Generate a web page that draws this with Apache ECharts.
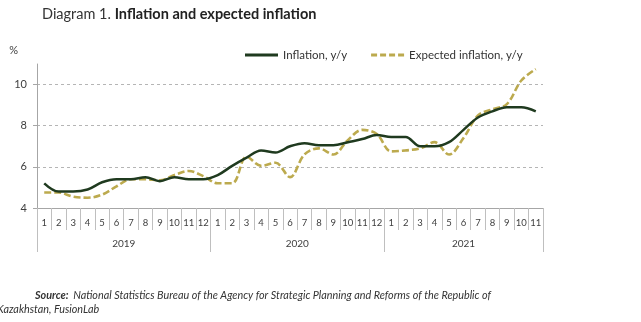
<!DOCTYPE html>
<html>
<head>
<meta charset="utf-8">
<script src="https://cdn.jsdelivr.net/npm/echarts@6/dist/echarts.min.js"></script>
<style>
html,body{margin:0;padding:0;background:#fff;}
#chart{width:641px;height:322px;}
</style>
</head>
<body>
<div id="chart"></div>
<script>
const monthLabels = ['1','2','3','4','5','6','7','8','9','10','11','12',
                     '1','2','3','4','5','6','7','8','9','10','11','12',
                     '1','2','3','4','5','6','7','8','9','10','11'];
const yearLabels = ['2019','2020','2021'];
const monthsPerYear = [12, 12, 11];
const inflation = [5.2,4.8,4.8,4.9,5.25,5.4,5.4,5.5,5.3,5.5,5.4,5.4,
                   5.6,6.05,6.45,6.8,6.7,7.0,7.15,7.05,7.05,7.2,7.35,7.55,
                   7.45,7.45,7.0,7.0,7.2,7.8,8.4,8.7,8.9,8.9,8.7];
const expected = [4.75,4.75,4.55,4.5,4.65,5.05,5.4,5.4,5.35,5.6,5.8,5.55,
                  5.2,5.2,6.5,6.05,6.2,5.5,6.6,6.9,6.6,7.3,7.8,7.6,
                  6.75,6.8,6.9,7.2,6.6,7.4,8.5,8.8,9.05,10.2,10.75];
const seriesNames = ['Inflation, y/y', 'Expected inflation, y/y'];

// year boundaries and centers (in category units)
const yearBounds = [0];
monthsPerYear.forEach(n => yearBounds.push(yearBounds[yearBounds.length - 1] + n));
const yearCenters = monthsPerYear.map((n, i) => yearBounds[i] + n / 2);

const FONT = 'Lato';
const dashIcon = 'path://M0,0h6v3h-6z M9,0h6v3h-6z M18,0h6v3h-6z M27,0h6v3h-6z';
const chart = echarts.init(document.getElementById('chart'), null, {renderer: 'canvas'});
chart.setOption({
  animation: false,
  textStyle: {fontFamily: FONT},
  title: [{
    left: 37, top: 2,
    text: '{n|Diagram 1. }{b|Inflation and expected inflation}',
    textStyle: {fontWeight: 'normal', rich: {
      n: {fontFamily: FONT, fontSize: 14.5, fontWeight: 'normal', color: '#333'},
      b: {fontFamily: FONT, fontSize: 14.5, fontWeight: 'bold', color: '#222'}
    }}
  }, {
    left: 30, top: 282,
    text: '{b|Source:} {i|National Statistics Bureau of the Agency for Strategic Planning and Reforms of the Republic of}',
    textStyle: {fontWeight: 'normal', rich: {
      b: {fontFamily: FONT, fontSize: 10.8, fontWeight: 'bold', fontStyle: 'italic', color: '#333'},
      i: {fontFamily: FONT, fontSize: 10.8, fontWeight: 'normal', fontStyle: 'italic', color: '#333'}
    }}
  }, {
    left: -8, top: 299,
    text: 'Kazakhstan, FusionLab',
    textStyle: {fontFamily: FONT, fontSize: 10.8, fontStyle: 'italic', fontWeight: 'normal', color: '#333'}
  }],
  legend: {
    left: 240, top: 44,
    itemWidth: 33, itemHeight: 3, itemGap: 24,
    textStyle: {fontFamily: FONT, fontSize: 11.5, color: '#333'},
    data: [{name: seriesNames[0], icon: 'rect'}, {name: seriesNames[1], icon: dashIcon}]
  },
  grid: {left: 37, right: 98, top: 64, bottom: 114},
  xAxis: [{
    type: 'category',
    data: monthLabels,
    boundaryGap: true,
    axisLine: {lineStyle: {color: '#a6a6a6', width: 1}},
    axisTick: {show: true, interval: 0, length: 22, lineStyle: {color: '#bfbfbf'}},
    axisLabel: {interval: 0, margin: 10, fontSize: 9.5, color: '#404040', fontFamily: FONT},
    splitLine: {show: false}
  }, {
    type: 'value',
    position: 'bottom',
    min: 0, max: yearBounds[yearBounds.length - 1],
    axisLine: {show: false},
    splitLine: {show: false},
    axisTick: {show: true, customValues: yearBounds, length: 44, lineStyle: {color: '#bfbfbf'}},
    axisLabel: {
      customValues: yearCenters, margin: 31, fontSize: 10, color: '#404040', fontFamily: FONT,
      formatter: v => { const i = yearCenters.indexOf(v); return i >= 0 ? yearLabels[i] : ''; }
    }
  }],
  yAxis: {
    type: 'value',
    min: 4, max: 11, interval: 2,
    name: '%',
    nameLocation: 'end',
    nameGap: 8,
    nameTextStyle: {fontFamily: FONT, fontSize: 11, color: '#404040', align: 'right', padding: [0, 19, 0, 0]},
    axisLine: {show: true, lineStyle: {color: '#a6a6a6'}},
    axisTick: {show: true, length: 4, lineStyle: {color: '#a6a6a6'}},
    axisLabel: {showMaxLabel: false, margin: 10, fontSize: 11, color: '#404040', fontFamily: FONT},
    splitLine: {show: true, showMinLine: false, showMaxLine: false, lineStyle: {color: '#b5b5b5', type: [3, 3], width: 1}}
  },
  series: [{
    name: seriesNames[0],
    type: 'line',
    data: inflation,
    smooth: 0.35,
    symbol: 'none',
    lineStyle: {color: '#1f3a1f', width: 2.5},
    itemStyle: {color: '#1f3a1f'},
    z: 3
  }, {
    name: seriesNames[1],
    type: 'line',
    data: expected,
    smooth: 0.35,
    symbol: 'none',
    lineStyle: {color: '#bcaa4e', width: 2.6, type: [7, 3]},
    itemStyle: {color: '#bcaa4e'},
    z: 2
  }]
});
</script>
</body>
</html>
